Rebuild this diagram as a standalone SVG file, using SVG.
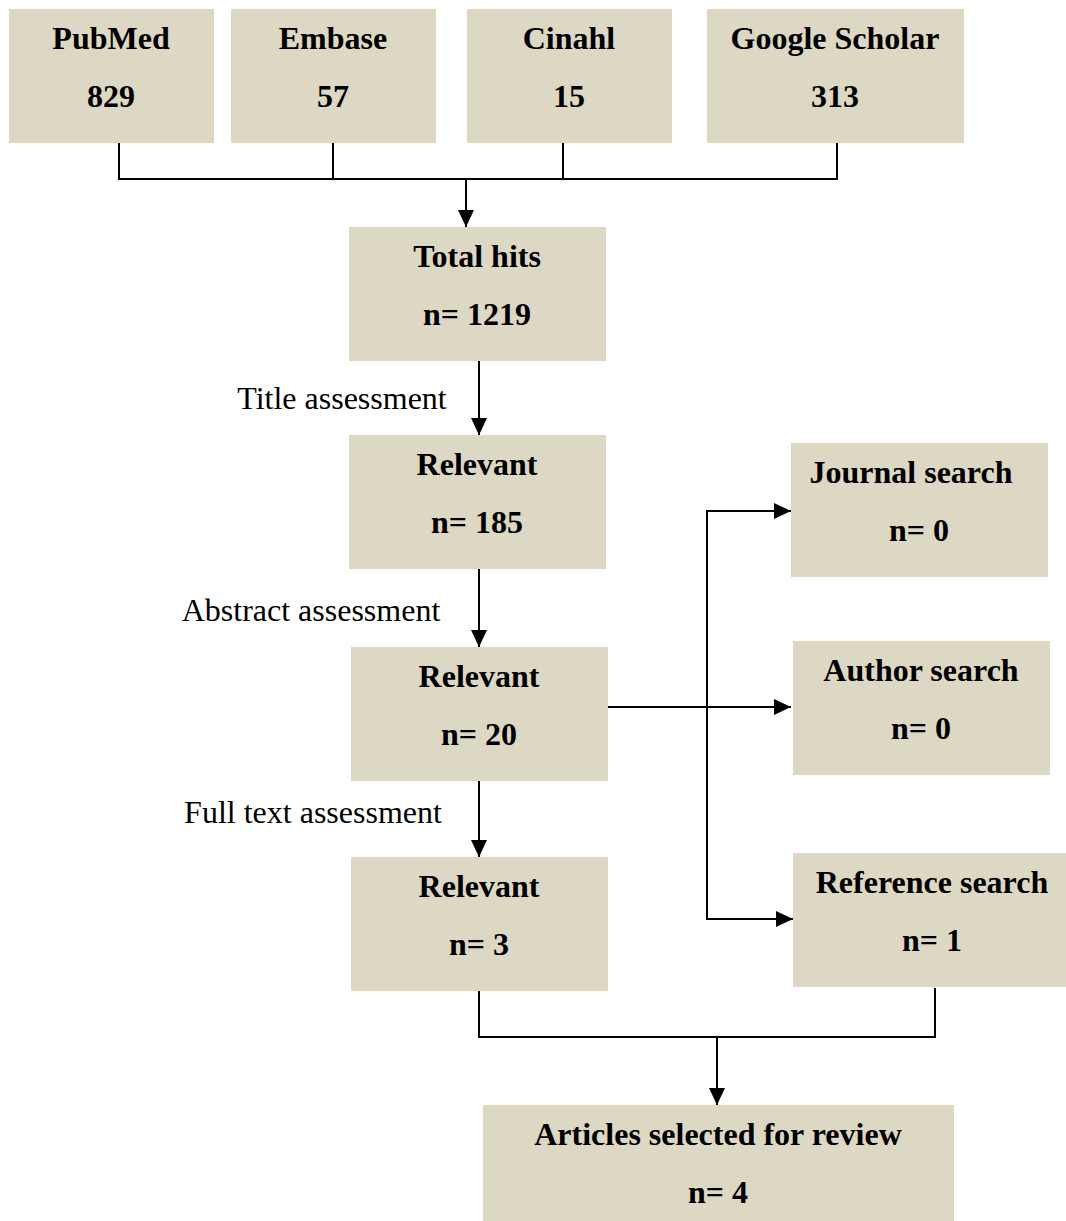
<svg xmlns="http://www.w3.org/2000/svg" width="1066" height="1221" viewBox="0 0 1066 1221">
<style>
.box{fill:#DDD8C4}
.t{font-family:"Liberation Serif","Times New Roman",serif;font-size:32px;font-weight:bold;fill:#000;text-anchor:middle}
.lab{font-family:"Liberation Serif","Times New Roman",serif;font-size:32px;fill:#000;text-anchor:middle}
.ln{fill:none;stroke:#000;stroke-width:2}
</style>
<defs>
<marker id="ah" markerUnits="userSpaceOnUse" markerWidth="18" markerHeight="18" viewBox="0 0 18 18" refX="17" refY="9" orient="auto">
<path d="M0,1 L17,9 L0,17 Z" fill="#000"/>
</marker>
</defs>
<rect width="1066" height="1221" fill="#fff"/>
<g id="connectors">
<path class="ln" d="M119,143 V179 M333,143 V179 M563,143 V179 M837,143 V179 M118,179 H838"/>
<path class="ln" d="M466,179 V227" marker-end="url(#ah)"/>
<path class="ln" d="M479,361 V435" marker-end="url(#ah)"/>
<path class="ln" d="M479,569 V647" marker-end="url(#ah)"/>
<path class="ln" d="M479,781 V857" marker-end="url(#ah)"/>
<path class="ln" d="M608,707 H791" marker-end="url(#ah)"/>
<path class="ln" d="M707,920 V511 H791" marker-end="url(#ah)"/>
<path class="ln" d="M706,919 H793" marker-end="url(#ah)"/>
<path class="ln" d="M479,991 V1037 H935 V988"/>
<path class="ln" d="M717,1036 V1105" marker-end="url(#ah)"/>
</g>
<g id="pubmed"><rect class="box" x="9" y="9" width="205" height="134"/><text class="t" x="111" y="49">PubMed</text><text class="t" x="111" y="107">829</text></g>
<g id="embase"><rect class="box" x="231" y="9" width="205" height="134"/><text class="t" x="333" y="49">Embase</text><text class="t" x="333" y="107">57</text></g>
<g id="cinahl"><rect class="box" x="467" y="9" width="205" height="134"/><text class="t" x="569" y="49">Cinahl</text><text class="t" x="569" y="107">15</text></g>
<g id="google"><rect class="box" x="707" y="9" width="257" height="134"/><text class="t" x="835" y="49">Google Scholar</text><text class="t" x="835" y="107">313</text></g>
<g id="total"><rect class="box" x="349" y="227" width="257" height="134"/><text class="t" x="477" y="267">Total hits</text><text class="t" x="477" y="325">n= 1219</text></g>
<g id="title-label"><text class="lab" x="342" y="409">Title assessment</text></g>
<g id="rel185"><rect class="box" x="349" y="435" width="257" height="134"/><text class="t" x="477" y="475">Relevant</text><text class="t" x="477" y="533">n= 185</text></g>
<g id="abstract-label"><text class="lab" x="311" y="621">Abstract assessment</text></g>
<g id="rel20"><rect class="box" x="351" y="647" width="257" height="134"/><text class="t" x="479" y="687">Relevant</text><text class="t" x="479" y="745">n= 20</text></g>
<g id="fulltext-label"><text class="lab" x="313" y="823">Full text assessment</text></g>
<g id="rel3"><rect class="box" x="351" y="857" width="257" height="134"/><text class="t" x="479" y="897">Relevant</text><text class="t" x="479" y="955">n= 3</text></g>
<g id="journal"><rect class="box" x="791" y="443" width="257" height="134"/><text class="t" x="911" y="483">Journal search</text><text class="t" x="919" y="541">n= 0</text></g>
<g id="author"><rect class="box" x="793" y="641" width="257" height="134"/><text class="t" x="921" y="681">Author search</text><text class="t" x="921" y="739">n= 0</text></g>
<g id="reference"><rect class="box" x="793" y="853" width="273" height="134"/><text class="t" x="932" y="893">Reference search</text><text class="t" x="932" y="951">n= 1</text></g>
<g id="articles"><rect class="box" x="483" y="1105" width="471" height="116"/><text class="t" x="718" y="1145">Articles selected for review</text><text class="t" x="718" y="1203">n= 4</text></g>
</svg>
